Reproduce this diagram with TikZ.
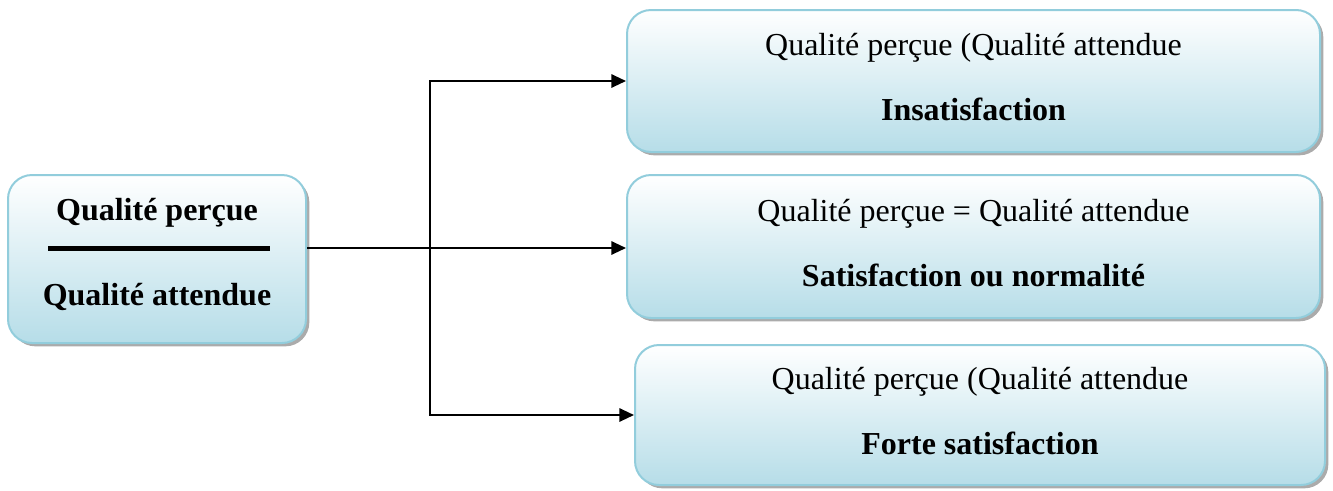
\documentclass[tikz,border=0pt]{standalone}
\usepackage{fontspec}
\setmainfont{Liberation Serif}
\usetikzlibrary{shadows,arrows.meta}
\definecolor{boxedge}{HTML}{92CDDC}
\definecolor{boxfill}{HTML}{B6DDE8}
\begin{document}
\begin{tikzpicture}[x=0.75pt,y=-0.75pt,
  box/.style={draw=boxedge,line width=1.5pt,rounded corners=18pt,
    top color=white,bottom color=boxfill,
    drop shadow={shadow xshift=2.5pt,shadow yshift=-2.5pt,fill=black!55,opacity=0.6},
    align=center,inner sep=0pt,text depth=6pt,
    font=\fontsize{24}{48.75}\selectfont},
  label/.style={font=\fontsize{24}{28}\selectfont\bfseries,inner sep=0pt},
  link/.style={line width=1.5pt,-{Triangle[length=11pt,width=10pt]}}]
\useasboundingbox (0,0) rectangle (1333,490);

% left box: ratio of perceived over expected quality
\node[box,minimum width=223.5pt,minimum height=126pt] (L) at (157,259) {};
\node[label] (Lnum) at (157,213) {Qualité perçue};
\node[label] (Lden) at (157,297) {Qualité attendue};
\coordinate (barL) at (48,248);
\coordinate (barR) at (270,248);
\draw[line width=3.75pt] (barL) -- (barR);

% outcome boxes
\node[box,minimum width=519.75pt,minimum height=106.5pt] (T) at (973.5,81)
  {Qualité perçue (Qualité attendue\\\textbf{Insatisfaction}};
\node[box,minimum width=519.75pt,minimum height=107.25pt] (M) at (973.5,246.5)
  {Qualité perçue = Qualité attendue\\\textbf{Satisfaction ou normalité}};
\node[box,minimum width=517.5pt,minimum height=105pt] (B) at (980,415)
  {Qualité perçue (Qualité attendue\\\textbf{Forte satisfaction}};

% connectors
\coordinate (J) at (430,248);
\draw[link] (L.east |- J) -- (J -| M.west);
\draw[link] (J) |- (T.west);
\draw[link] (J) |- (B.west);
\end{tikzpicture}
\end{document}
